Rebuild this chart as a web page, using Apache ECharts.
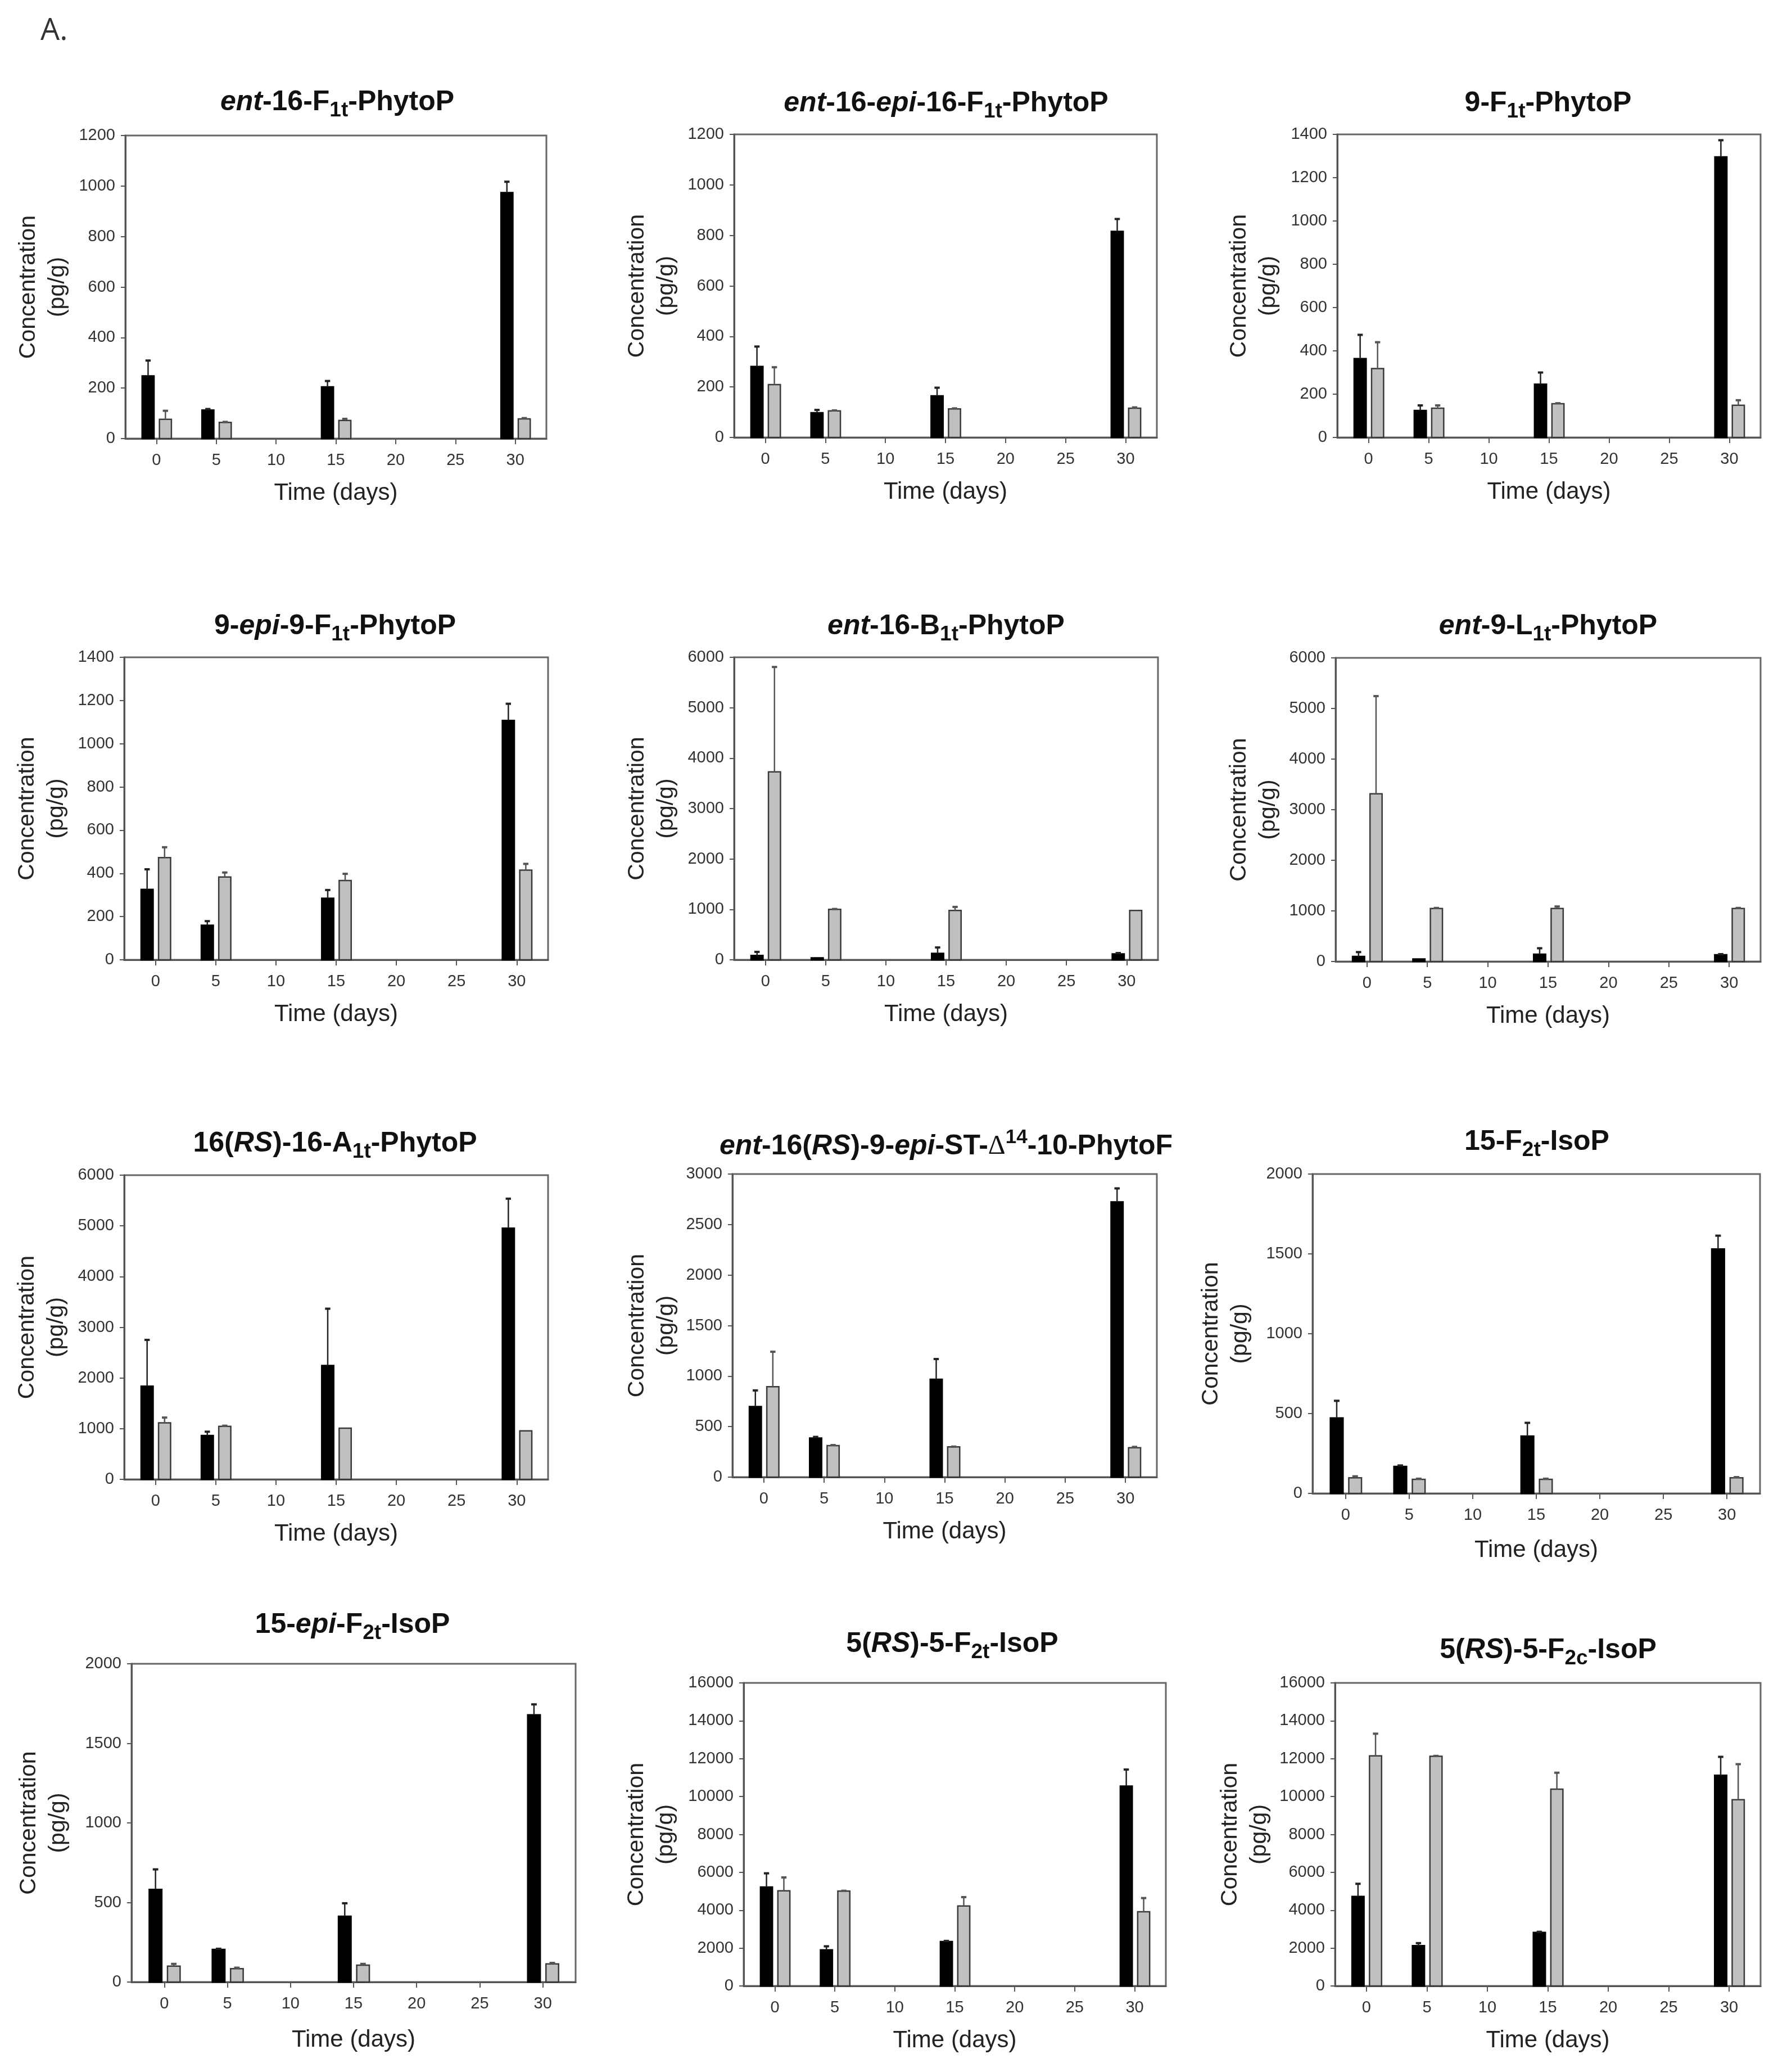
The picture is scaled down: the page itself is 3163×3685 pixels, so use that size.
<!DOCTYPE html>
<html>
<head>
<meta charset="utf-8">
<script src="https://cdn.jsdelivr.net/npm/echarts@6/dist/echarts.min.js"></script>
<style>html,body{margin:0;padding:0;background:#fff}#c{width:3163px;height:3685px}</style>
</head>
<body>
<div id="c"></div>
<script>
// ---------- DATA ----------
const days = [0, 5, 15, 30];
const xTicks = [0, 5, 10, 15, 20, 25, 30];
const yMax  = [1200, 1200, 1400, 1400, 6000, 6000, 6000, 3000, 2000, 2000, 16000, 16000];
const yStep = [200, 200, 200, 200, 1000, 1000, 1000, 500, 500, 500, 2000, 2000];
const titles = [
  '{i|ent}{b|-16-F}{s|1t}{b|-PhytoP}',
  '{i|ent}{b|-16-}{i|epi}{b|-16-F}{s|1t}{b|-PhytoP}',
  '{b|9-F}{s|1t}{b|-PhytoP}',
  '{b|9-}{i|epi}{b|-9-F}{s|1t}{b|-PhytoP}',
  '{i|ent}{b|-16-B}{s|1t}{b|-PhytoP}',
  '{i|ent}{b|-9-L}{s|1t}{b|-PhytoP}',
  '{b|16(}{i|RS}{b|)-16-A}{s|1t}{b|-PhytoP}',
  '{i|ent}{b|-16(}{i|RS}{b|)-9-}{i|epi}{b|-ST-}{d|Δ}{u|14}{b|-10-PhytoF}',
  '{b|15-F}{s|2t}{b|-IsoP}',
  '{b|15-}{i|epi}{b|-F}{s|2t}{b|-IsoP}',
  '{b|5(}{i|RS}{b|)-5-F}{s|2t}{b|-IsoP}',
  '{b|5(}{i|RS}{b|)-5-F}{s|2c}{b|-IsoP}'
];
const xName = 'Time (days)';
const yName = 'Concentration\n(pg/g)';

// mean and SD (upper error) per panel, black = first series, gray = second series
const p01_black = [248, 113, 205, 974],    p01_blackSD = [61, 4, 23, 43];
const p01_gray  = [76, 64, 72, 78],        p01_graySD  = [34, 2, 6, 3];
const p02_black = [281, 98, 165, 816],     p02_blackSD = [79, 11, 32, 49];
const p02_gray  = [209, 105, 113, 116],    p02_graySD  = [69, 2, 2, 3];
const p03_black = [364, 125, 246, 1296],   p03_blackSD = [110, 23, 54, 77];
const p03_gray  = [318, 135, 156, 149],    p03_graySD  = [122, 13, 2, 23];
const p04_black = [326, 160, 285, 1108],   p04_blackSD = [93, 19, 38, 77];
const p04_gray  = [473, 383, 367, 415],    p04_graySD  = [48, 21, 31, 29];
const p05_black = [87, 40, 128, 117],      p05_blackSD = [70, 0, 117, 17];
const p05_gray  = [3728, 1002, 979, 979],  p05_graySD  = [2080, 6, 70, 0];
const p06_black = [99, 50, 145, 134],      p06_blackSD = [87, 0, 117, 11];
const p06_gray  = [3314, 1047, 1047, 1047],p06_graySD  = [1930, 11, 40, 11];
const p07_black = [1839, 865, 2246, 4956], p07_blackSD = [912, 75, 1120, 580];
const p07_gray  = [1114, 1045, 1010, 957], p07_graySD  = [105, 13, 0, 0];
const p08_black = [698, 387, 968, 2724],   p08_blackSD = [160, 11, 201, 134];
const p08_gray  = [895, 311, 299, 291],    p08_graySD  = [346, 6, 3, 8];
const p09_black = [473, 169, 359, 1531],   p09_blackSD = [107, 6, 83, 83];
const p09_gray  = [98, 88, 88, 98],        p09_graySD  = [9, 4, 4, 4];
const p10_black = [582, 205, 413, 1679],   p10_blackSD = [126, 4, 82, 66];
const p10_gray  = [100, 84, 106, 114],     p10_graySD  = [14, 6, 8, 6];
const p11_black = [5227, 1910, 2345, 10555], p11_blackSD = [721, 184, 34, 871];
const p11_gray  = [5026, 5009, 4222, 3920],  p11_graySD  = [704, 17, 469, 721];
const p12_black = [4724, 2128, 2831, 11124], p12_blackSD = [670, 134, 29, 972];
const p12_gray  = [12146, 12129, 10387, 9834], p12_graySD = [1173, 17, 871, 1876];

const blackMeans = [p01_black, p02_black, p03_black, p04_black, p05_black, p06_black, p07_black, p08_black, p09_black, p10_black, p11_black, p12_black];
const blackSDs   = [p01_blackSD, p02_blackSD, p03_blackSD, p04_blackSD, p05_blackSD, p06_blackSD, p07_blackSD, p08_blackSD, p09_blackSD, p10_blackSD, p11_blackSD, p12_blackSD];
const grayMeans  = [p01_gray, p02_gray, p03_gray, p04_gray, p05_gray, p06_gray, p07_gray, p08_gray, p09_gray, p10_gray, p11_gray, p12_gray];
const graySDs    = [p01_graySD, p02_graySD, p03_graySD, p04_graySD, p05_graySD, p06_graySD, p07_graySD, p08_graySD, p09_graySD, p10_graySD, p11_graySD, p12_graySD];

// ---------- LAYOUT ----------
const FONT = '"Liberation Sans", Arial, Helvetica, sans-serif';
// [left, top, width, height] of each plot box
const boxes = [
  [223, 241, 749, 539], [1306, 239, 752, 539], [2379, 239, 753, 539],
  [221, 1169, 754, 538], [1306, 1169, 754, 538], [2376, 1170, 756, 540],
  [221, 2090, 754, 541], [1303, 2088, 755, 539], [2335, 2088, 796, 568],
  [234, 2959, 790, 566], [1323, 2993, 751, 539], [2375, 2993, 757, 539]
];
const titlePos = [
  [600, 182], [1683, 184], [2754, 184],
  [596, 1114], [1683, 1114], [2754, 1114],
  [596, 2034], [1683, 2039], [2734, 2031],
  [627, 2890], [1694, 2924], [2754, 2935]
];
const yNameGap = [94, 94, 96, 94, 94, 93, 94, 91, 102, 104, 112, 108];
const xNameGap = [76, 76, 76, 76, 76, 76, 76, 76, 80, 82, 76, 76];

const titleRich = {
  b: { fontSize: 50, fontWeight: 'bold', fontFamily: FONT, fill: '#111', color: '#111', lineHeight: 66, verticalAlign: 'middle' },
  i: { fontSize: 50, fontWeight: 'bold', fontStyle: 'italic', fontFamily: FONT, fill: '#111', color: '#111', lineHeight: 66, verticalAlign: 'middle' },
  s: { fontSize: 37, fontWeight: 'bold', fontFamily: FONT, fill: '#111', color: '#111', lineHeight: 31, verticalAlign: 'bottom' },
  u: { fontSize: 35, fontWeight: 'bold', fontFamily: FONT, fill: '#111', color: '#111', lineHeight: 31, verticalAlign: 'top' },
  d: { fontSize: 48, fontWeight: 'normal', fontFamily: '"Liberation Serif", "DejaVu Serif", serif', fill: '#111', color: '#111', lineHeight: 66, verticalAlign: 'middle' }
};

function makeRender(off, fill, stroke, errColor) {
  return function (params, api) {
    const x = api.value(0), v = api.value(1), sd = api.value(2);
    const a = api.coord([x + off - 0.5, v]);
    const b = api.coord([x + off + 0.5, 0]);
    const children = [{
      type: 'rect',
      shape: { x: a[0], y: a[1], width: b[0] - a[0], height: b[1] - a[1] },
      style: { fill: fill, stroke: stroke, lineWidth: 2.5 }
    }];
    if (sd > 0) {
      const c = api.coord([x + off, v]);
      const t = api.coord([x + off, v + sd]);
      const cl = api.coord([x + off - 0.22, v + sd]);
      const cr = api.coord([x + off + 0.22, v + sd]);
      children.push({ type: 'line', shape: { x1: c[0], y1: c[1], x2: t[0], y2: t[1] }, style: { stroke: errColor, lineWidth: 2.5 } });
      children.push({ type: 'line', shape: { x1: cl[0], y1: t[1], x2: cr[0], y2: t[1] }, style: { stroke: errColor, lineWidth: 4 } });
    }
    return { type: 'group', children: children };
  };
}

const grid = [], xAxis = [], yAxis = [], series = [], graphic = [];
for (let i = 0; i < 12; i++) {
  const bx = boxes[i];
  grid.push({ left: bx[0], top: bx[1], width: bx[2], height: bx[3], show: true, borderColor: '#666', borderWidth: 3, backgroundColor: 'transparent', containLabel: false });
  xAxis.push({
    gridIndex: i, type: 'value', min: -2.6, max: 32.6,
    axisLine: { show: true, onZero: false, lineStyle: { color: '#555', width: 3 } },
    axisTick: { show: true, inside: false, length: 10, customValues: xTicks, lineStyle: { color: '#555', width: 2 } },
    axisLabel: { customValues: xTicks, fontSize: 29, color: '#333', margin: 24, fontFamily: FONT, formatter: v => String(v) },
    splitLine: { show: false },
    name: xName, nameLocation: 'middle', nameGap: xNameGap[i],
    nameTextStyle: { fontSize: 42, color: '#222', fontFamily: FONT }
  });
  yAxis.push({
    gridIndex: i, type: 'value', min: 0, max: yMax[i], interval: yStep[i],
    axisLine: { show: true, onZero: false, lineStyle: { color: '#555', width: 3 } },
    axisTick: { show: true, inside: false, length: 8, lineStyle: { color: '#555', width: 2 } },
    axisLabel: { fontSize: 29, color: '#333', margin: 18, fontFamily: FONT, formatter: v => String(v) },
    splitLine: { show: false },
    name: yName, nameLocation: 'middle', nameRotate: 90, nameGap: yNameGap[i],
    nameTextStyle: { fontSize: 41, lineHeight: 52, color: '#222', fontFamily: FONT, align: 'center' }
  });
  const dBlack = days.map((d, k) => [d, blackMeans[i][k], blackSDs[i][k]]);
  const dGray = days.map((d, k) => [d, grayMeans[i][k], graySDs[i][k]]);
  series.push({ type: 'custom', xAxisIndex: i, yAxisIndex: i, data: dBlack, renderItem: makeRender(-0.7, '#000', '#000', '#222'), encode: { x: 0, y: 1 }, clip: false, silent: true });
  series.push({ type: 'custom', xAxisIndex: i, yAxisIndex: i, data: dGray, renderItem: makeRender(0.75, '#c0c0c0', '#3a3a3a', '#555'), encode: { x: 0, y: 1 }, clip: false, silent: true });
  graphic.push({
    type: 'text', x: titlePos[i][0], y: titlePos[i][1],
    style: { text: titles[i], rich: titleRich, align: 'center', verticalAlign: 'middle', textAlign: 'center', textVerticalAlign: 'middle', fontFamily: FONT, fontSize: 50, fontWeight: 'bold', fill: '#111' }
  });
}
graphic.push({
  type: 'text', x: 72, y: 56,
  style: { text: 'A.', fontFamily: '"Open Sans", "Liberation Sans", sans-serif', fontSize: 54, fill: '#333', align: 'left', verticalAlign: 'middle', textAlign: 'left', textVerticalAlign: 'middle' }
});

const chart = echarts.init(document.getElementById('c'), null, { renderer: 'canvas' });
chart.setOption({
  animation: false,
  backgroundColor: '#fff',
  textStyle: { fontFamily: FONT },
  grid: grid, xAxis: xAxis, yAxis: yAxis, series: series, graphic: graphic
});
</script>
</body>
</html>
